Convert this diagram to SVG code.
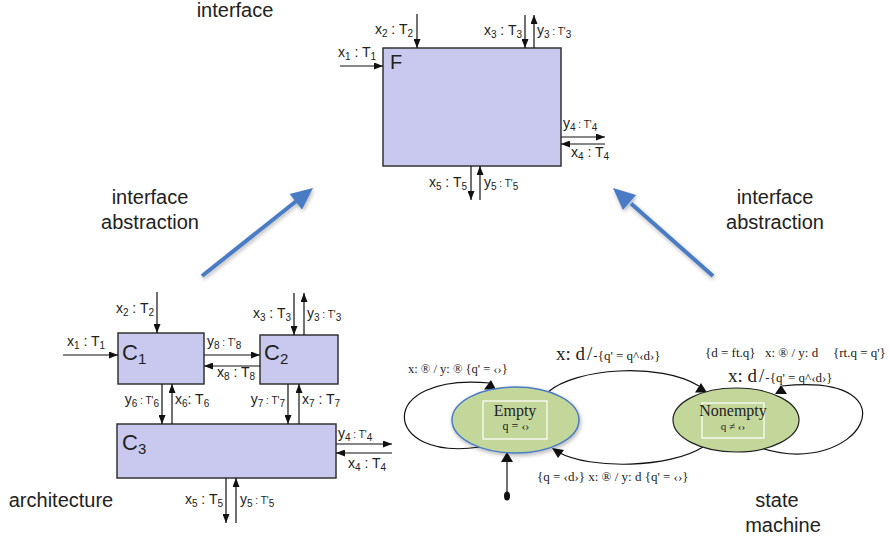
<svg xmlns="http://www.w3.org/2000/svg" width="890" height="543" viewBox="0 0 890 543">
<defs>
<marker id="ah" viewBox="0 0 9 7" refX="9" refY="3.5" markerWidth="9" markerHeight="7" markerUnits="userSpaceOnUse" orient="auto"><path d="M0,0 L9,3.5 L0,7 z" fill="#111"/></marker>
<filter id="sh" x="-20%" y="-20%" width="140%" height="140%"><feGaussianBlur in="SourceAlpha" stdDeviation="2"/><feOffset dx="1" dy="2"/><feComponentTransfer><feFuncA type="linear" slope="0.3"/></feComponentTransfer><feMerge><feMergeNode/><feMergeNode in="SourceGraphic"/></feMerge></filter>
</defs>
<style>
.box{fill:#c9c9ef;stroke:#333;stroke-width:1.5}
.ln{stroke:#111;stroke-width:1.2;fill:none;marker-end:url(#ah)}
.lb{font-family:"Liberation Sans",Arial,sans-serif;font-size:14px;fill:#222}
.s{font-size:10px}
.big{font-family:"Liberation Sans",Arial,sans-serif;font-size:20px;fill:#222}
.cl{font-family:"Liberation Sans",Arial,sans-serif;font-size:22px;fill:#222}
.cap{font-family:"Liberation Sans",Arial,sans-serif;font-size:20px;fill:#222;text-anchor:middle}
.sm{font-family:"Liberation Serif","Times New Roman",serif;font-size:12.5px;fill:#222}
.sm13{font-family:"Liberation Serif","Times New Roman",serif;font-size:13px;fill:#222}
.nm{font-family:"Liberation Serif","Times New Roman",serif;font-size:16px;fill:#222;text-anchor:middle}
.nq{font-family:"Liberation Serif","Times New Roman",serif;font-size:12px;fill:#222;text-anchor:middle}
.smd{font-family:"Liberation Serif","Times New Roman",serif;font-size:19px;fill:#222}
.st{fill:#c4d79b}
.cv{fill:none;stroke:#111;stroke-width:1.2}
.blue{stroke:#4a7cc4;stroke-width:4;fill:none}
</style>

<!-- Captions -->
<text class="cap" x="235" y="17">interface</text>
<text class="cap" x="150" y="204">interface</text>
<text class="cap" x="150" y="229">abstraction</text>
<text class="cap" x="775" y="204">interface</text>
<text class="cap" x="775" y="229">abstraction</text>
<text class="cap" x="61" y="507">architecture</text>
<text class="cap" x="777" y="507">state</text>
<text class="cap" x="783" y="532">machine</text>

<!-- Blue abstraction arrows -->
<g id="abs-left" filter="url(#sh)">
<line class="blue" x1="202" y1="276" x2="297" y2="200.5"/>
<polygon points="313,188 302,209.5 289.6,193.9" fill="#4a7cc4"/>
</g>
<g id="abs-right" filter="url(#sh)">
<line class="blue" x1="713" y1="276" x2="631" y2="203.5"/>
<polygon points="613,188 636.1,195 622.9,210" fill="#4a7cc4"/>
</g>

<!-- Interface F -->
<g id="F">
<rect class="box" x="383" y="48" width="178" height="118"/>
<text class="big" x="390" y="69">F</text>
</g>
<g id="F-connectors">
<line class="ln" x1="340" y1="66" x2="383" y2="66"/>
<line class="ln" x1="417" y1="14" x2="417" y2="48"/>
<line class="ln" x1="525" y1="15" x2="525" y2="48"/>
<line class="ln" x1="534" y1="48" x2="534" y2="15"/>
<line class="ln" x1="561" y1="137" x2="605" y2="137"/>
<line class="ln" x1="605" y1="144" x2="561" y2="144"/>
<line class="ln" x1="471" y1="166" x2="471" y2="200"/>
<line class="ln" x1="480" y1="200" x2="480" y2="166"/>
</g>
<g id="F-labels">
<text class="lb" x="338" y="57">x<tspan class="s" dy="3">1</tspan><tspan dy="-3"> : T</tspan><tspan class="s" dy="3">1</tspan></text>
<text class="lb" x="413" y="34" text-anchor="end">x<tspan class="s" dy="3">2</tspan><tspan dy="-3"> : T</tspan><tspan class="s" dy="3">2</tspan></text>
<text class="lb" x="522" y="35" text-anchor="end">x<tspan class="s" dy="3">3</tspan><tspan dy="-3"> : T</tspan><tspan class="s" dy="3">3</tspan></text>
<text class="lb" x="537" y="35">y<tspan class="s" dy="3">3</tspan><tspan class="s" dy="-3"> : T'</tspan><tspan class="s" dy="3">3</tspan></text>
<text class="lb" x="563" y="128">y<tspan class="s" dy="3">4</tspan><tspan class="s" dy="-3"> : T'</tspan><tspan class="s" dy="3">4</tspan></text>
<text class="lb" x="571" y="157">x<tspan class="s" dy="3">4</tspan><tspan dy="-3"> : T</tspan><tspan class="s" dy="3">4</tspan></text>
<text class="lb" x="467" y="187" text-anchor="end">x<tspan class="s" dy="3">5</tspan><tspan dy="-3"> : T</tspan><tspan class="s" dy="3">5</tspan></text>
<text class="lb" x="484" y="187">y<tspan class="s" dy="3">5</tspan><tspan class="s" dy="-3"> : T'</tspan><tspan class="s" dy="3">5</tspan></text>
</g>

<!-- Architecture -->
<g id="C1">
<rect class="box" x="118" y="333" width="86" height="51"/>
<text class="cl" x="122" y="360">C<tspan font-size="15" dy="4">1</tspan></text>
</g>
<g id="C2">
<rect class="box" x="260" y="335" width="78" height="49"/>
<text class="cl" x="264" y="360">C<tspan font-size="15" dy="4">2</tspan></text>
</g>
<g id="C3">
<rect class="box" x="117" y="424" width="219" height="54"/>
<text class="cl" x="122" y="450">C<tspan font-size="15" dy="4">3</tspan></text>
</g>
<g id="arch-connectors">
<line class="ln" x1="157" y1="292" x2="157" y2="333"/>
<line class="ln" x1="63" y1="355" x2="118" y2="355"/>
<line class="ln" x1="204" y1="355" x2="260" y2="355"/>
<line class="ln" x1="260" y1="366" x2="204" y2="366"/>
<line class="ln" x1="294" y1="293" x2="294" y2="335"/>
<line class="ln" x1="304" y1="335" x2="304" y2="293"/>
<line class="ln" x1="162" y1="384" x2="162" y2="424"/>
<line class="ln" x1="172" y1="424" x2="172" y2="384"/>
<line class="ln" x1="288" y1="384" x2="288" y2="424"/>
<line class="ln" x1="299" y1="424" x2="299" y2="384"/>
<line class="ln" x1="336" y1="444" x2="392" y2="444"/>
<line class="ln" x1="392" y1="453" x2="336" y2="453"/>
<line class="ln" x1="226" y1="478" x2="226" y2="523"/>
<line class="ln" x1="236" y1="523" x2="236" y2="478"/>
</g>
<g id="arch-labels">
<text class="lb" x="154" y="313" text-anchor="end">x<tspan class="s" dy="3">2</tspan><tspan dy="-3"> : T</tspan><tspan class="s" dy="3">2</tspan></text>
<text class="lb" x="67" y="346">x<tspan class="s" dy="3">1</tspan><tspan dy="-3"> : T</tspan><tspan class="s" dy="3">1</tspan></text>
<text class="lb" x="207" y="346">y<tspan class="s" dy="3">8</tspan><tspan class="s" dy="-3"> : T'</tspan><tspan class="s" dy="3">8</tspan></text>
<text class="lb" x="217" y="377">x<tspan class="s" dy="3">8</tspan><tspan dy="-3"> : T</tspan><tspan class="s" dy="3">8</tspan></text>
<text class="lb" x="291" y="318" text-anchor="end">x<tspan class="s" dy="3">3</tspan><tspan dy="-3"> : T</tspan><tspan class="s" dy="3">3</tspan></text>
<text class="lb" x="307" y="318">y<tspan class="s" dy="3">3</tspan><tspan class="s" dy="-3"> : T'</tspan><tspan class="s" dy="3">3</tspan></text>
<text class="lb" x="159" y="404" text-anchor="end">y<tspan class="s" dy="3">6</tspan><tspan class="s" dy="-3"> : T'</tspan><tspan class="s" dy="3">6</tspan></text>
<text class="lb" x="175" y="404">x<tspan class="s" dy="3">6</tspan><tspan dy="-3">: T</tspan><tspan class="s" dy="3">6</tspan></text>
<text class="lb" x="285" y="404" text-anchor="end">y<tspan class="s" dy="3">7</tspan><tspan class="s" dy="-3"> : T'</tspan><tspan class="s" dy="3">7</tspan></text>
<text class="lb" x="302" y="404">x<tspan class="s" dy="3">7</tspan><tspan dy="-3"> : T</tspan><tspan class="s" dy="3">7</tspan></text>
<text class="lb" x="338" y="438">y<tspan class="s" dy="3">4</tspan><tspan class="s" dy="-3"> : T'</tspan><tspan class="s" dy="3">4</tspan></text>
<text class="lb" x="348" y="468">x<tspan class="s" dy="3">4</tspan><tspan dy="-3"> : T</tspan><tspan class="s" dy="3">4</tspan></text>
<text class="lb" x="223" y="504" text-anchor="end">x<tspan class="s" dy="3">5</tspan><tspan dy="-3"> : T</tspan><tspan class="s" dy="3">5</tspan></text>
<text class="lb" x="240" y="504">y<tspan class="s" dy="3">5</tspan><tspan class="s" dy="-3"> : T'</tspan><tspan class="s" dy="3">5</tspan></text>
</g>

<!-- State machine -->
<g id="sm-connectors">
<path class="cv" d="M480,447 C380,462 375,372 490,383"/>
<polygon points="484,389.5 496,389.5 491,380" fill="#111"/>
<path class="cv" d="M548,392 C575,368 660,362 699,386"/>
<polygon points="695,392.5 707,392.5 701,383" fill="#111"/>
<path class="cv" d="M703,447 C670,468 590,470 558,452"/>
<polygon points="552,448 564,450 558,458" fill="#111"/>
<path class="cv" d="M758,447 C860,482 920,372 782,386"/>
<polygon points="775,394 787,394 781,385" fill="#111"/>
<line class="cv" x1="507" y1="496" x2="507" y2="461"/>
<polygon points="507,452 501,462 513,462" fill="#111"/>
<ellipse cx="507" cy="496" rx="3" ry="4.5" fill="#111"/>
</g>
<g id="Empty">
<ellipse class="st" cx="515.5" cy="420" rx="63.5" ry="33" stroke="#4a7cc4" stroke-width="1.5" filter="url(#sh)"/>
<rect x="483" y="401" width="64" height="38" fill="none" stroke="#fff" stroke-width="1.2"/>
<text class="nm" x="515" y="416">Empty</text>
<text class="nq" x="516" y="430">q = ‹›</text>
</g>
<g id="Nonempty">
<ellipse class="st" cx="736" cy="420" rx="63" ry="32" stroke="#222" stroke-width="1.2"/>
<rect x="702" y="403" width="62" height="35" fill="none" stroke="#fff" stroke-width="1.2"/>
<text class="nm" x="733" y="416">Nonempty</text>
<text class="nq" x="733" y="430" style="font-size:11px">q ≠ ‹›</text>
</g>
<g id="sm-labels">
<text class="sm" x="408" y="373">x: ® / y: ® {q' = ‹›}</text>
<text class="sm13" x="537" y="481">{q = ‹d›} x: ® / y: d {q' = ‹›}</text>
<text class="smd" x="556" y="360">x: d<tspan dx="2">/</tspan><tspan font-size="13" dx="1">-{q' = q^‹d›}</tspan></text>
<text class="sm13" x="705" y="357">{d = ft.q}</text>
<text class="sm13" x="765" y="357">x: ® / y: d</text>
<text class="sm13" x="833" y="357">{rt.q = q'}</text>
<text class="smd" x="728" y="382">x: d<tspan dx="2">/</tspan><tspan font-size="13" dx="1">-{q' = q^‹d›}</tspan></text>
</g>
</svg>
